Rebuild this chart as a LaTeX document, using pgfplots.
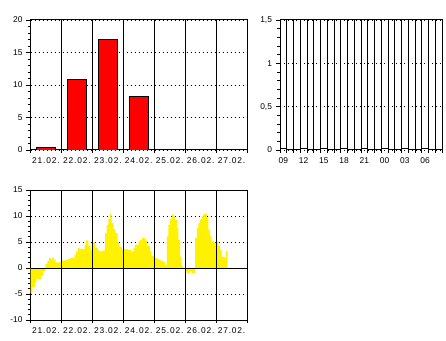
\documentclass[border=0pt]{standalone}
\usepackage{pgfplots}
\pgfplotsset{compat=1.18}
\usepackage{fontspec}
\setmainfont{Liberation Sans}
\newfontfamily\datefont[LetterSpace=10]{Liberation Sans}
\begin{document}
\begin{tikzpicture}
\useasboundingbox (0pt,0pt) rectangle (446pt,340pt);
\pgfplotsset{
  base/.style={scale only axis, anchor=south west, height=130pt,
    axis line style={black, line width=1pt},
    tick style={black, line width=0.8pt},
    tick align=outside, xtick pos=bottom, ytick pos=left,
    major tick length=4.5pt, minor tick length=3pt,
    ticklabel style={font=\fontsize{8.4}{10}\selectfont},
    /pgf/number format/assume math mode=true,
    major x tick style={draw=none},
    minor x grid style={black, line width=1pt, solid},
    major y grid style={black, line width=0.9pt, dash pattern=on 0.9pt off 3.1pt},
    xminorgrids, ymajorgrids,
  },
  dates/.style={xticklabel style={font=\fontsize{8.4}{10}\datefont}},
}
% ---- top left: daily bars
\begin{axis}[base, dates, at={(30.5pt,190pt)}, width=216.5pt,
  xmin=0, xmax=7, ymin=0, ymax=20,
  ytick={0,5,...,20}, minor y tick num=4,
  xtick={0.5,1.5,2.5,3.5,4.5,5.5,6.5},
  xticklabels={21.02.,22.02.,23.02.,24.02.,25.02.,26.02.,27.02.},
  minor xtick={0,...,7},
]
\addplot[ybar, bar width=18.5pt, fill=red, draw=black, line width=0.8pt]
  coordinates {(0.5,0.4) (1.5,10.9) (2.5,17.0) (3.5,8.2)};
\end{axis}
% ---- top right: hourly
\begin{axis}[base, at={(280pt,190pt)}, width=162pt,
  xmin=0, xmax=24, ymin=0, ymax=1.5,
  ytick={0,0.5,1,1.5}, yticklabels={0,{0,5},1,{1,5}}, minor y tick num=4,
  xtick={0.5,3.5,6.5,9.5,12.5,15.5,18.5,21.5},
  xticklabels={09,12,15,18,21,00,03,06},
  minor xtick={0,...,24},
]
\addplot[ybar, bar width=6.67pt, fill=white, draw=black, line width=0.8pt]
  coordinates {(0.5,0.015) (3.5,0.015) (6.5,0.015) (9.5,0.015) (12.5,0.015) (15.5,0.015) (18.5,0.015) (21.5,0.015)};
\end{axis}
% ---- bottom: area
\begin{axis}[base, dates, at={(30.5pt,20pt)}, width=216.5pt,
  xmin=0, xmax=7, ymin=-10, ymax=15,
  ytick={-10,-5,...,15}, minor y tick num=4,
  xtick={0.5,1.5,2.5,3.5,4.5,5.5,6.5},
  xticklabels={21.02.,22.02.,23.02.,24.02.,25.02.,26.02.,27.02.},
  minor xtick={0,...,7}, xminorgrids=false,
]
\addplot[const plot, fill=yellow, draw=none] coordinates {
(0.000,-4.8) (0.064,-3.7) (0.139,-2.8) (0.193,-2.2) (0.354,-1.5) (0.407,-0.6)
(0.482,0.8) (0.547,1.4) (0.600,1.9) (0.654,1.7) (0.707,2.0) (0.761,1.6)
(0.815,1.1) (0.943,1.2) (1.000,1.4) (1.104,1.5) (1.211,1.7) (1.286,1.9)
(1.372,2.0) (1.425,2.6) (1.479,3.2) (1.533,3.8) (1.586,3.7) (1.693,3.65)
(1.747,4.5) (1.800,5.3) (1.875,4.2) (1.940,3.5) (2.015,4.9) (2.101,3.8)
(2.176,3.4) (2.261,3.2) (2.336,3.4) (2.412,6.7) (2.465,8.3) (2.519,9.4)
(2.572,10.4) (2.626,8.7) (2.690,7.5) (2.744,6.7) (2.819,4.9) (2.872,4.0)
(2.958,3.5) (3.033,3.65) (3.140,3.5) (3.247,3.2) (3.333,3.8) (3.376,4.5)
(3.44,4.5) (3.495,5.1) (3.548,5.4) (3.60,5.8) (3.71,5.3) (3.76,4.3)
(3.81,4.2) (3.87,3.2) (3.92,2.4) (4.0,1.9) (4.086,1.7) (4.16,1.5)
(4.215,1.3) (4.30,1.15) (4.355,0.65) (4.41,6.1) (4.46,8.3) (4.516,9.4)
(4.57,10.3) (4.624,9.9) (4.677,9.3) (4.73,7.7) (4.785,5.4) (4.84,2.2)
(4.89,0.5) (4.92,0) (5.0,-0.65) (5.05,-1.0) (5.16,-0.65) (5.215,-1.0)
(5.32,5.8) (5.376,7.7) (5.43,8.7) (5.48,9.3) (5.53,9.9) (5.59,10.4)
(5.70,9.6) (5.75,7.4) (5.81,6.1) (5.86,5.1) (5.94,4.9) (6.0,5.1)
(6.075,4.2) (6.13,3.5) (6.18,2.2) (6.24,2.1) (6.29,1.9) (6.32,3.3)
(6.376,3.3)
} \closedcycle;
\addplot[black, line width=1pt] coordinates {(0,0) (7,0)};
\addplot[black, line width=1pt] coordinates {(1,-10) (1,15)};
\addplot[black, line width=1pt] coordinates {(2,-10) (2,15)};
\addplot[black, line width=1pt] coordinates {(3,-10) (3,15)};
\addplot[black, line width=1pt] coordinates {(4,-10) (4,15)};
\addplot[black, line width=1pt] coordinates {(5,-10) (5,15)};
\addplot[black, line width=1pt] coordinates {(6,-10) (6,15)};
\end{axis}
\end{tikzpicture}
\end{document}
